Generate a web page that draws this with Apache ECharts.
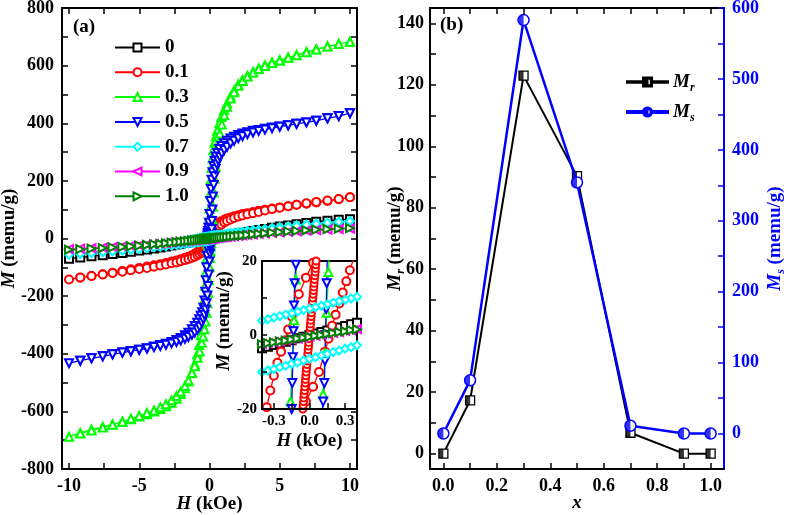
<!DOCTYPE html>
<html><head><meta charset="utf-8">
<script src="https://cdn.jsdelivr.net/npm/echarts@6/dist/echarts.min.js"></script>
<style>html,body{margin:0;padding:0;background:#fff}#c{width:787px;height:515px}</style>
</head><body><div id="c"></div>
<script>
// ---------- Panel (b) data ----------
const xComp = [0, 0.1, 0.3, 0.5, 0.7, 0.9, 1.0];
const MrVals = [0, 17.3, 123, 90.3, 6.8, 0, 0];
const MsVals = [0, 75, 583, 354, 11, 0, 0];

// ---------- Panel (a) data: flat [H, M, H, M, ...] ----------
const seriesNames = ['0', '0.1', '0.3', '0.5', '0.7', '0.9', '1.0'];
const k0 = [-10,-70, -9.2,-66, -8.4,-62, -7.6,-58, -6.9,-54, -6.2,-50, -5.6,-46, -5,-42, -4.45,-38, -3.95,-34.5, -3.5,-31, -3.1,-27.5, -2.7,-24, -2.35,-21, -2.05,-18.5, -1.75,-15.8, -1.5,-13.5, -1.25,-11.3, -1.05,-9.5, -0.85,-7.7, -0.7,-6.3, -0.55,-4.9, -0.4,-3.6, -0.35,-3.2, -0.3,-2.7, -0.25,-2.3, -0.2,-1.8, -0.15,-1.4, -0.1,-0.9, -0.05,-0.5, 0,0, 0.05,0.4, 0.1,0.8, 0.15,1.2, 0.2,1.6, 0.25,2, 0.3,2.4, 0.35,2.9, 0.4,3.3, 0.55,4.6, 0.7,5.9, 0.85,7.2, 1.05,8.9, 1.25,10.6, 1.5,12.7, 1.75,14.9, 2.05,17.4, 2.35,19.9, 2.7,22.8, 3.1,26.1, 3.5,29.4, 3.95,33, 4.45,37, 5,41.5, 5.6,45.5, 6.2,49.5, 6.9,54, 7.6,58, 8.4,62, 9.2,65, 10,67];
const r01desc = [10,143, 9.2,136, 8.4,130, 7.6,125, 6.9,121, 6.2,117, 5.6,112, 5,108, 4.45,104, 3.95,100, 3.5,96, 3.1,92, 2.7,88, 2.35,85, 2.05,81, 1.75,77, 1.5,73, 1.25,69, 1.05,65, 0.85,60, 0.7,56, 0.55,50, 0.45,45, 0.36,40, 0.28,35, 0.21,31, 0.15,27, 0.09,23, 0.03,19.5, -0.03,15.5, -0.09,11, -0.15,5, -0.18,1.5, -0.21,-1.5, -0.24,-4.5, -0.27,-7.5, -0.3,-11, -0.33,-15, -0.36,-19.5, -0.45,-27, -0.55,-34, -0.7,-41, -0.85,-47, -1.05,-53, -1.25,-58, -1.5,-63, -1.75,-67, -2.05,-72, -2.35,-76, -2.7,-80, -3.1,-85, -3.5,-89, -3.95,-93, -4.45,-97, -5,-102, -5.6,-107, -6.2,-113, -6.9,-119, -7.6,-124, -8.4,-130, -9.2,-136, -10,-142];
const r01asc = [-9.2,-135, -8.4,-130, -7.6,-125, -6.9,-120, -6.2,-115, -5.6,-110, -5,-106, -4.45,-102, -3.95,-98, -3.5,-94, -3.1,-90, -2.7,-86, -2.35,-83, -2.05,-79, -1.75,-75, -1.5,-71, -1.25,-67, -1.05,-63, -0.85,-58, -0.7,-54, -0.55,-49, -0.45,-44, -0.36,-39, -0.28,-35, -0.21,-30, -0.15,-26, -0.09,-22, -0.03,-18, 0.03,-14, 0.08,-10, 0.13,-4.5, 0.16,-1, 0.19,2.5, 0.22,5.5, 0.25,8.5, 0.28,11.5, 0.31,14.5, 0.34,17.5, 0.37,20.5, 0.45,28, 0.55,35, 0.7,43, 0.85,49, 1.05,56, 1.25,61, 1.5,66, 1.75,71, 2.05,76, 2.35,80, 2.7,84, 3.1,88, 3.5,92, 3.95,97, 4.45,102, 5,107, 5.6,112, 6.2,117, 6.9,122, 7.6,127, 8.4,132, 9.2,137, 10,143];
const r01band = [-0.062,-22, -0.059,-21, -0.056,-20, -0.053,-19, -0.05,-18, -0.048,-17, -0.045,-16, -0.042,-15, -0.039,-14, -0.036,-13, -0.034,-12, -0.031,-11, -0.028,-10, -0.025,-9, -0.022,-8, -0.02,-7, -0.017,-6, -0.014,-5, -0.011,-4, -0.008,-3, -0.006,-2, -0.003,-1, 0,0, 0.003,1, 0.006,2, 0.008,3, 0.011,4, 0.014,5, 0.017,6, 0.02,7, 0.022,8, 0.025,9, 0.028,10, 0.031,11, 0.034,12, 0.036,13, 0.039,14, 0.042,15, 0.045,16, 0.048,17, 0.05,18, 0.053,19, 0.056,20, 0.059,21, 0.062,22];
const g03desc = [10,683, 9.2,675, 8.4,667, 7.6,657, 6.9,647, 6.2,637, 5.6,628, 5,618, 4.45,611, 3.95,601, 3.5,590, 3.1,578, 2.7,564, 2.35,550, 2.05,535, 1.75,514, 1.5,493, 1.25,469, 1.05,447, 0.85,422, 0.7,400, 0.55,374, 0.45,354, 0.36,332, 0.28,307, 0.21,278, 0.15,245, 0.1,205, 0.05,155, 0,104, -0.04,68, -0.07,45, -0.095,28, -0.115,15, -0.13,4, -0.145,-7, -0.16,-18, -0.18,-36, -0.21,-70, -0.25,-115, -0.3,-165, -0.36,-212, -0.43,-256, -0.52,-298, -0.62,-335, -0.74,-370, -0.88,-403, -1.05,-436, -1.25,-466, -1.5,-496, -1.75,-520, -2.05,-540, -2.35,-556, -2.7,-570, -3.1,-582, -3.5,-592, -3.95,-600, -4.45,-610, -5,-618, -5.6,-627, -6.2,-636, -6.9,-645, -7.6,-654, -8.4,-663, -9.2,-675, -10,-688];
const g03asc = [-9.2,-677, -8.4,-666, -7.6,-656, -6.9,-646, -6.2,-636, -5.6,-626, -5,-616, -4.45,-606, -3.95,-597, -3.5,-586, -3.1,-575, -2.7,-561, -2.35,-547, -2.05,-532, -1.75,-512, -1.5,-492, -1.25,-467, -1.05,-443, -0.85,-414, -0.7,-392, -0.55,-362, -0.45,-340, -0.36,-315, -0.28,-288, -0.21,-258, -0.15,-225, -0.1,-188, -0.05,-145, 0,-100, 0.04,-68, 0.07,-45, 0.095,-28, 0.115,-16, 0.13,-5, 0.145,6, 0.16,17, 0.18,35, 0.21,66, 0.25,110, 0.3,160, 0.36,207, 0.43,250, 0.52,293, 0.62,330, 0.74,364, 0.88,396, 1.05,428, 1.25,457, 1.5,486, 1.75,508, 2.05,530, 2.35,547, 2.7,562, 3.1,576, 3.5,588, 3.95,599, 4.45,609, 5,618, 5.6,627, 6.2,636, 6.9,646, 7.6,656, 8.4,666, 9.2,675, 10,683];
const b05desc = [10,435, 9.2,425, 8.4,417, 7.6,409, 6.9,403, 6.2,398, 5.6,393, 5,389, 4.45,385, 3.95,381, 3.5,377, 3.1,374, 2.7,369, 2.35,364, 2.05,359, 1.75,353, 1.5,347, 1.25,339, 1.05,331, 0.85,321, 0.7,311, 0.55,297, 0.45,285, 0.36,270, 0.28,252, 0.21,230, 0.15,204, 0.1,172, 0.05,130, 0,85, -0.04,55, -0.07,37, -0.095,26, -0.115,19, -0.125,14, -0.13,8, -0.135,1, -0.14,-6, -0.145,-13, -0.15,-20, -0.16,-32, -0.18,-60, -0.21,-100, -0.25,-145, -0.3,-185, -0.36,-215, -0.43,-240, -0.52,-256, -0.62,-268, -0.74,-280, -0.88,-292, -1.05,-304, -1.25,-315, -1.5,-327, -1.75,-336, -2.05,-345, -2.35,-352, -2.7,-359, -3.1,-365, -3.5,-370, -3.95,-375, -4.45,-381, -5,-386, -5.6,-391, -6.2,-396, -6.9,-402, -7.6,-409, -8.4,-416, -9.2,-424, -10,-433];
const b05asc = [-9.2,-424, -8.4,-416, -7.6,-409, -6.9,-402, -6.2,-396, -5.6,-391, -5,-386, -4.45,-382, -3.95,-377, -3.5,-373, -3.1,-369, -2.7,-364, -2.35,-359, -2.05,-354, -1.75,-348, -1.5,-342, -1.25,-334, -1.05,-326, -0.85,-316, -0.7,-306, -0.55,-292, -0.45,-280, -0.36,-265, -0.28,-247, -0.21,-225, -0.15,-198, -0.1,-165, -0.05,-125, 0,-80, 0.04,-52, 0.07,-35, 0.095,-25, 0.115,-18, 0.125,-13, 0.13,-7, 0.135,0, 0.14,7, 0.145,14, 0.15,21, 0.16,33, 0.18,61, 0.21,101, 0.25,146, 0.3,186, 0.36,216, 0.43,241, 0.52,258, 0.62,271, 0.74,283, 0.88,295, 1.05,307, 1.25,318, 1.5,330, 1.75,339, 2.05,348, 2.35,355, 2.7,362, 3.1,368, 3.5,373, 3.95,378, 4.45,383, 5,388, 5.6,393, 6.2,398, 6.9,403, 7.6,409, 8.4,417, 9.2,425, 10,435];
const c07desc = [10,60, 9.2,57.4, 8.4,54.5, 7.6,51.3, 6.9,48.3, 6.2,45.1, 5.6,42.2, 5,39.2, 4.45,36.2, 3.95,33.4, 3.5,30.8, 3.1,28.4, 2.7,26, 2.35,23.8, 2.05,21.9, 1.75,19.9, 1.5,18.2, 1.25,16.5, 1.05,15.1, 0.85,13.7, 0.7,12.6, 0.55,11.5, 0.4,10.3, 0.35,9.9, 0.3,9.5, 0.25,9.1, 0.2,8.7, 0.15,8.3, 0.1,7.9, 0.05,7.5, 0,7.1, -0.05,6.7, -0.1,6.3, -0.15,5.9, -0.2,5.5, -0.25,5.1, -0.3,4.7, -0.35,4.3, -0.4,3.9, -0.55,2.7, -0.7,1.4, -0.85,0.1, -1.05,-1.8, -1.25,-3.7, -1.5,-6.2, -1.75,-8.8, -2.05,-11.9, -2.35,-15, -2.7,-18.5, -3.1,-22, -3.5,-25.5, -3.95,-29, -4.45,-32, -5,-35, -5.6,-38, -6.2,-41, -6.9,-44, -7.6,-47, -8.4,-50, -9.2,-53, -10,-56];
const c07asc = [-9.2,-53.2, -8.4,-50.3, -7.6,-47.3, -6.9,-44.5, -6.2,-41.6, -5.6,-39, -5,-36.2, -4.45,-33.5, -3.95,-31, -3.5,-28.6, -3.1,-26.4, -2.7,-24.2, -2.35,-22.2, -2.05,-20.4, -1.75,-18.6, -1.5,-17.1, -1.25,-15.6, -1.05,-14.3, -0.85,-13, -0.7,-12, -0.55,-11, -0.4,-10, -0.35,-9.6, -0.3,-9.2, -0.25,-8.7, -0.2,-8.3, -0.15,-7.8, -0.1,-7.4, -0.05,-6.9, 0,-6.4, 0.05,-6, 0.1,-5.5, 0.15,-5.1, 0.2,-4.6, 0.25,-4.2, 0.3,-3.7, 0.35,-3.3, 0.4,-2.8, 0.55,-1.6, 0.7,-0.3, 0.85,1, 1.05,2.8, 1.25,4.6, 1.5,6.9, 1.75,9.2, 2.05,12, 2.35,14.8, 2.7,18, 3.1,21.5, 3.5,25, 3.95,28.8, 4.45,32.6, 5,36.5, 5.6,40.2, 6.2,43.7, 6.9,47.4, 7.6,50.8, 8.4,54.2, 9.2,57.2, 10,60];
const m09 = [-10,-37, -9.2,-35.5, -8.4,-33.5, -7.6,-31.5, -6.9,-29.5, -6.2,-27.5, -5.6,-25.5, -5,-23.5, -4.45,-21.5, -3.95,-19.5, -3.5,-17.5, -3.1,-15.7, -2.7,-13.8, -2.35,-12.1, -2.05,-10.6, -1.75,-9.1, -1.5,-7.9, -1.25,-6.7, -1.05,-5.7, -0.85,-4.7, -0.7,-3.9, -0.55,-3.2, -0.4,-2.4, -0.35,-2.2, -0.3,-1.9, -0.25,-1.7, -0.2,-1.4, -0.15,-1.2, -0.1,-0.9, -0.05,-0.7, 0,-0.4, 0.05,-0.2, 0.1,0.1, 0.15,0.3, 0.2,0.6, 0.25,0.8, 0.3,1.1, 0.35,1.3, 0.4,1.6, 0.55,2.3, 0.7,3, 0.85,3.8, 1.05,4.7, 1.25,5.7, 1.5,6.9, 1.75,8, 2.05,9.4, 2.35,10.8, 2.7,12.3, 3.1,14, 3.5,15.6, 3.95,17.4, 4.45,19.3, 5,21.2, 5.6,23.2, 6.2,25.1, 6.9,27.1, 7.6,28.9, 8.4,30.8, 9.2,32.3, 10,34];
const d10 = [-10,-39, -9.2,-37, -8.4,-35, -7.6,-33, -6.9,-31, -6.2,-29, -5.6,-27, -5,-25, -4.45,-22.5, -3.95,-20.5, -3.5,-18.5, -3.1,-16.5, -2.7,-14.5, -2.35,-12.7, -2.05,-11.1, -1.75,-9.6, -1.5,-8.3, -1.25,-7, -1.05,-5.9, -0.85,-4.9, -0.7,-4.1, -0.55,-3.3, -0.4,-2.5, -0.35,-2.2, -0.3,-2, -0.25,-1.7, -0.2,-1.5, -0.15,-1.2, -0.1,-1, -0.05,-0.7, 0,-0.5, 0.05,-0.2, 0.1,0, 0.15,0.3, 0.2,0.5, 0.25,0.8, 0.3,1, 0.35,1.3, 0.4,1.5, 0.55,2.3, 0.7,3.1, 0.85,3.9, 1.05,4.9, 1.25,5.9, 1.5,7.1, 1.75,8.4, 2.05,9.8, 2.35,11.2, 2.7,12.8, 3.1,14.6, 3.5,16.3, 3.95,18.2, 4.45,20.2, 5,22.3, 5.6,24.4, 6.2,26.4, 6.9,28.6, 7.6,30.5, 8.4,32.5, 9.2,34.2, 10,36];

// ---------- Tick values ----------
const aXTicks = [-10, -7.5, -5, -2.5, 0, 2.5, 5, 7.5, 10];
const aXLabels = [-10, -5, 0, 5, 10];
const aYLabels = [-800, -600, -400, -200, 0, 200, 400, 600, 800];
const inXTicks = [-0.3, -0.15, 0, 0.15, 0.3];
const inXLabels = [-0.3, 0, 0.3];
const inYLabels = [-20, 0, 20];
const bXTicks = [0, 0.1, 0.2, 0.3, 0.4, 0.5, 0.6, 0.7, 0.8, 0.9, 1.0];
const bXLabels = [0, 0.2, 0.4, 0.6, 0.8, 1.0];
const bLTicks = [0, 10, 20, 30, 40, 50, 60, 70, 80, 90, 100, 110, 120, 130, 140];
const bLLabels = [0, 20, 40, 60, 80, 100, 120, 140];
const bRTicks = [0, 50, 100, 150, 200, 250, 300, 350, 400, 450, 500, 550, 600];
const bRLabels = [0, 100, 200, 300, 400, 500, 600];

function pairs(a) { const r = []; for (let i = 0; i < a.length; i += 2) r.push([a[i], a[i + 1]]); return r; }
function zip(xs, ys) { return xs.map((x, i) => [x, ys[i]]); }

const FONT = '"Liberation Serif","Times New Roman",serif';
const lbl = (size, color) => ({ fontFamily: FONT, fontWeight: 'bold', fontSize: size, color: color || '#000' });
const richName = (size, color) => ({
  fontFamily: FONT, fontWeight: 'bold', fontSize: size, color: color, lineHeight: 24,
  rich: {
    i: { fontFamily: FONT, fontWeight: 'bold', fontStyle: 'italic', fontSize: size, color: color, lineHeight: 24 },
    s: { fontFamily: FONT, fontWeight: 'bold', fontStyle: 'italic', fontSize: 12, color: color, lineHeight: 12, verticalAlign: 'bottom' },
    n: { fontFamily: FONT, fontWeight: 'bold', fontSize: size, color: color, lineHeight: 24 }
  }
});

const specs = [
  { name: '0', color: '#000000', symbol: 'emptyRect', rot: 0, data: pairs(k0) },
  { name: '0.1', color: '#ff0000', symbol: 'emptyCircle', rot: 0, data: pairs(r01desc).concat(pairs(r01asc)) },
  { name: '0.3', color: '#00ff00', symbol: 'emptyTriangle', rot: 0, data: pairs(g03desc).concat(pairs(g03asc)) },
  { name: '0.5', color: '#0000ff', symbol: 'emptyTriangle', rot: 180, data: pairs(b05desc).concat(pairs(b05asc)) },
  { name: '0.7', color: '#00ffff', symbol: 'emptyDiamond', rot: 0, data: pairs(c07desc).concat(pairs(c07asc)) },
  { name: '0.9', color: '#ff00ff', symbol: 'emptyTriangle', rot: 90, data: pairs(m09) },
  { name: '1.0', color: '#008000', symbol: 'emptyTriangle', rot: -90, data: pairs(d10) }
];

const series = [];
function addLoop(s, xi, yi, z, size) {
  series.push({
    type: 'line', name: s.name, xAxisIndex: xi, yAxisIndex: yi, z: z,
    data: s.data, symbol: s.symbol, symbolRotate: s.rot, symbolSize: size,
    lineStyle: { color: s.color, width: 1.3 },
    itemStyle: { color: s.color, borderColor: s.color, borderWidth: 1 },
    clip: true, silent: true
  });
  if (s.name === '0.1') {
    series.push({
      type: 'line', name: 'band01', xAxisIndex: xi, yAxisIndex: yi, z: z,
      data: pairs(r01band), symbol: 'emptyCircle', symbolSize: size - 1,
      lineStyle: { color: s.color, width: 1.3 },
      itemStyle: { color: s.color, borderColor: s.color, borderWidth: 1 },
      clip: true, silent: true
    });
  }
}
specs.forEach(s => addLoop(s, 0, 0, 2, 8));
specs.forEach(s => addLoop(s, 2, 2, 4, 8));

// Panel (b)
series.push({
  type: 'line', name: 'Mr', xAxisIndex: 3, yAxisIndex: 3, z: 5,
  data: zip(xComp, MrVals), symbol: 'rect', symbolSize: 9,
  lineStyle: { color: '#000', width: 2 },
  itemStyle: { color: '#fff', borderColor: '#000', borderWidth: 1.3 }, silent: true
});
series.push({
  type: 'scatter', name: 'MrHalf', xAxisIndex: 3, yAxisIndex: 3, z: 6,
  data: zip(xComp, MrVals), symbol: 'path://M0,0L1,0L1,2L0,2Z', symbolSize: [4.5, 9], symbolOffset: [-2.25, 0],
  itemStyle: { color: '#000' }, silent: true
});
series.push({
  type: 'line', name: 'Ms', xAxisIndex: 4, yAxisIndex: 4, z: 7,
  data: zip(xComp, MsVals), symbol: 'circle', symbolSize: 11,
  lineStyle: { color: '#0000ff', width: 2.5 },
  itemStyle: { color: '#fff', borderColor: '#0000ff', borderWidth: 1.5 }, silent: true
});
series.push({
  type: 'scatter', name: 'MsHalf', xAxisIndex: 4, yAxisIndex: 4, z: 8,
  data: zip(xComp, MsVals), symbol: 'path://M1,0A1,1,0,0,0,1,2Z', symbolSize: [5.5, 11], symbolOffset: [-2.75, 0],
  itemStyle: { color: '#0000ff' }, silent: true
});

const axLine = (c) => ({ onZero: false, lineStyle: { color: c || '#000', width: 2 } });
const axTick = (vals, c) => ({ inside: true, length: 6, customValues: vals, lineStyle: { color: c || '#000', width: 1.5 } });
const noLabel = { show: false };
const fmt1 = v => Number(v).toFixed(1);

const MR_ICON = 'path://M0,4.2L17.5,4.2L17.5,5.8L0,5.8Z M27.5,4.2L45,4.2L45,5.8L27.5,5.8Z M17.5,0L22.5,0L22.5,10L17.5,10Z M22.5,0L27.5,0L27.5,1.3L22.5,1.3Z M22.5,8.7L27.5,8.7L27.5,10L22.5,10Z M26.2,1.3L27.5,1.3L27.5,8.7L26.2,8.7Z';
const MS_ICON = 'path://M0,4L17.5,4L17.5,6L0,6Z M27.5,4L45,4L45,6L27.5,6Z M22.5,0A5,5,0,0,0,22.5,10Z M22.5,0A5,5,0,0,1,22.5,10L22.5,8.6A3.6,3.6,0,0,0,22.5,1.4Z';

const option = {
  animation: false,
  backgroundColor: '#fff',
  grid: [
    { left: 62, top: 8, width: 295, height: 461, outerBoundsMode: 'none', containLabel: false },
    { left: 262, top: 261, width: 95, height: 148, outerBoundsMode: 'none', containLabel: false, show: true, backgroundColor: '#fff', borderColor: '#000', borderWidth: 2, z: 3 },
    { left: 430, top: 8, width: 294, height: 461, outerBoundsMode: 'none', containLabel: false }
  ],
  xAxis: [
    { gridIndex: 0, type: 'value', min: -10.5, max: 10.5, position: 'bottom', axisLine: axLine(), axisTick: axTick(aXTicks),
      axisLabel: Object.assign({ customValues: aXLabels, margin: 8 }, lbl(18)), splitLine: { show: false },
      name: '{i|H}{n| (kOe)}', nameLocation: 'middle', nameGap: 23, nameMoveOverlap: false, nameTextStyle: richName(19, '#000') },
    { gridIndex: 0, type: 'value', min: -10.5, max: 10.5, position: 'top', axisLine: axLine(), axisTick: axTick(aXTicks),
      axisLabel: noLabel, splitLine: { show: false } },
    { gridIndex: 1, type: 'value', min: -0.4, max: 0.4, position: 'bottom', z: 5, axisLine: axLine(), axisTick: axTick(inXTicks),
      axisLabel: Object.assign({ customValues: inXLabels, margin: 5, formatter: fmt1 }, lbl(15)), splitLine: { show: false },
      name: '{i|H}{n| (kOe)}', nameLocation: 'middle', nameGap: 20, nameMoveOverlap: false, nameTextStyle: richName(19, '#000') },
    { gridIndex: 2, type: 'value', min: -0.05, max: 1.05, position: 'bottom', axisLine: axLine(), axisTick: axTick(bXTicks),
      axisLabel: Object.assign({ customValues: bXLabels, margin: 8, formatter: fmt1 }, lbl(18)), splitLine: { show: false },
      name: '{i|x}', nameLocation: 'middle', nameGap: 22, nameMoveOverlap: false, nameTextStyle: richName(19, '#000') },
    { gridIndex: 2, type: 'value', min: -0.05, max: 1.05, position: 'top', axisLine: axLine(), axisTick: axTick(bXTicks),
      axisLabel: noLabel, splitLine: { show: false } }
  ],
  yAxis: [
    { gridIndex: 0, type: 'value', min: -800, max: 800, interval: 100, position: 'left', axisLine: axLine(),
      axisTick: { inside: true, length: 6, lineStyle: { color: '#000', width: 1.5 } },
      axisLabel: Object.assign({ customValues: aYLabels, margin: 8 }, lbl(18)), splitLine: { show: false },
      name: '{i|M}{n| (memu/g)}', nameLocation: 'middle', nameRotate: 90, nameGap: 41, nameMoveOverlap: false, nameTextStyle: richName(19, '#000') },
    { gridIndex: 0, type: 'value', min: -800, max: 800, interval: 100, position: 'right', axisLine: axLine(),
      axisTick: { inside: true, length: 6, lineStyle: { color: '#000', width: 1.5 } }, axisLabel: noLabel, splitLine: { show: false } },
    { gridIndex: 1, type: 'value', min: -20, max: 20, interval: 10, position: 'left', z: 5, axisLine: axLine(),
      axisTick: { inside: true, length: 5, lineStyle: { color: '#000', width: 1.5 } },
      axisLabel: Object.assign({ customValues: inYLabels, margin: 5 }, lbl(15)), splitLine: { show: false },
      name: '{i|M}{n| (memu/g)}', nameLocation: 'middle', nameRotate: 90, nameGap: 26, nameMoveOverlap: false,
      nameTextStyle: Object.assign(richName(19, '#000'), { padding: [0, 0, 0, 28] }) },
    { gridIndex: 2, type: 'value', min: -5, max: 145, position: 'left', axisLine: axLine(), axisTick: axTick(bLTicks),
      axisLabel: Object.assign({ customValues: bLLabels, margin: 6 }, lbl(18)), splitLine: { show: false },
      name: '{i|M}{s|r}{n| (memu/g)}', nameLocation: 'middle', nameRotate: 90, nameGap: 23, nameMoveOverlap: false, nameTextStyle: richName(19, '#000') },
    { gridIndex: 2, type: 'value', min: -50, max: 600, position: 'right', axisLine: axLine('#0000ff'), axisTick: axTick(bRTicks, '#0000ff'),
      axisLabel: Object.assign({ customValues: bRLabels, margin: 8 }, lbl(18, '#0000ff')), splitLine: { show: false },
      name: '{i|M}{s|s}{n| (memu/g)}', nameLocation: 'middle', nameRotate: 90, nameGap: 39, nameMoveOverlap: false, nameTextStyle: richName(19, '#0000ff') }
  ],
  legend: [
    { data: seriesNames, orient: 'vertical', left: 114, top: 38, padding: 0, itemWidth: 45, itemHeight: 10, itemGap: 5.8,
      selectedMode: false, lineStyle: { width: 2 },
      textStyle: { fontFamily: FONT, fontWeight: 'bold', fontSize: 19, color: '#000', lineHeight: 19 } },
    { data: [{ name: 'Mr', icon: MR_ICON, itemStyle: { color: '#000' } }, { name: 'Ms', icon: MS_ICON, itemStyle: { color: '#0000ff' } }],
      orient: 'vertical', left: 626, top: 70, padding: 0, itemWidth: 41, itemHeight: 10, itemGap: 6, selectedMode: false,
      formatter: n => n === 'Mr' ? '{i|M}{s|r}' : '{i|M}{s|s}',
      textStyle: richName(19, '#000') }
  ],
  graphic: [
    { type: 'text', left: 73, top: 18, z: 10, style: { text: '(a)', font: 'bold 19px ' + FONT, fill: '#000' } },
    { type: 'text', left: 440, top: 16, z: 10, style: { text: '(b)', font: 'bold 19px ' + FONT, fill: '#000' } }
  ],
  series: series
};

const chart = echarts.init(document.getElementById('c'), null, { renderer: 'canvas' });
chart.setOption(option);
</script></body></html>
